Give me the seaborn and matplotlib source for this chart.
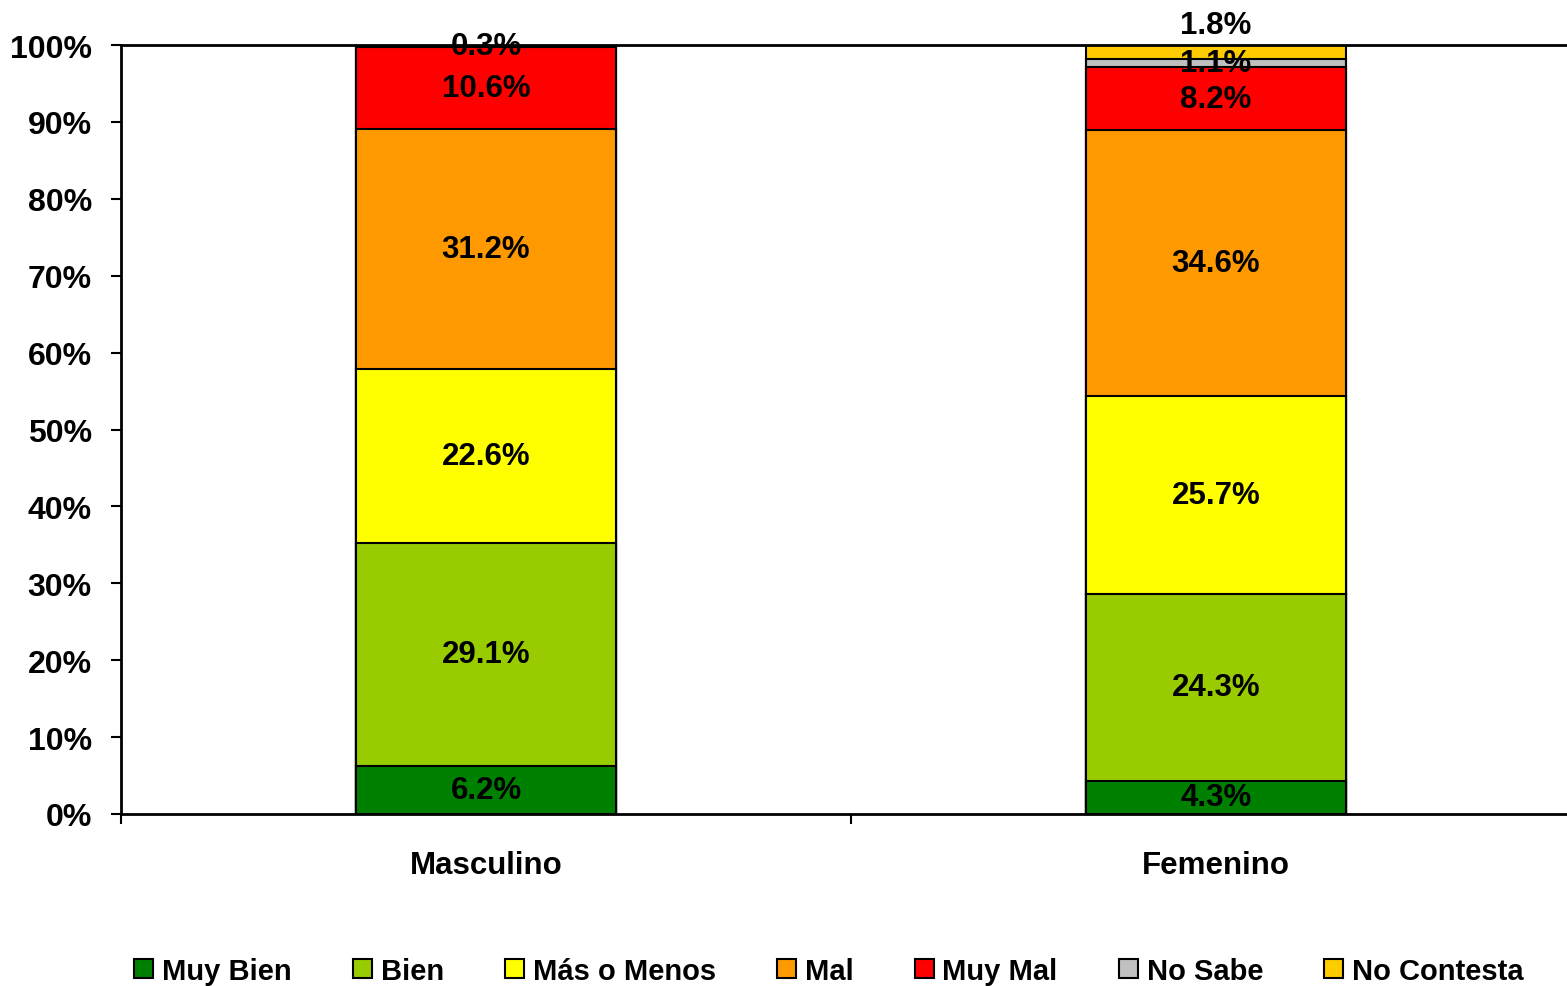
import matplotlib
matplotlib.use("Agg")
import matplotlib.pyplot as plt
import seaborn as sns
import pandas as pd
import numpy as np
from matplotlib.patches import Patch
from matplotlib.ticker import FixedLocator

categories = ["Masculino", "Femenino"]
series_names = ["Muy Bien", "Bien", "Más o Menos", "Mal", "Muy Mal", "No Sabe", "No Contesta"]
muy_bien = [6.2, 4.3]
bien = [29.1, 24.3]
mas_o_menos = [22.6, 25.7]
mal = [31.2, 34.6]
muy_mal = [10.6, 8.2]
no_sabe = [0.0, 1.1]
no_contesta = [0.3, 1.8]
colors = ["#008000", "#99CC00", "#FFFF00", "#FF9900", "#FF0000", "#C0C0C0", "#FFCC00"]

sns.set_theme(style="white")
plt.rcParams["font.family"] = ["Liberation Sans", "DejaVu Sans"]
plt.rcParams["font.weight"] = "bold"
plt.rcParams["text.color"] = "black"
plt.rcParams["xtick.color"] = "black"
plt.rcParams["ytick.color"] = "black"

values = [muy_bien, bien, mas_o_menos, mal, muy_mal, no_sabe, no_contesta]
cum = np.cumsum(np.array(values), axis=0)

fig = plt.figure(figsize=(15.67, 9.87), dpi=100)
ax = fig.add_axes([121/1567, 1-815/987, 1460/1567, (815-46)/987])

# draw cumulative layers from top down
for i in range(len(series_names)-1, -1, -1):
    df = pd.DataFrame({"cat": categories, "val": cum[i]})
    sns.barplot(data=df, x="cat", y="val", color=colors[i], width=0.357,
                edgecolor="black", linewidth=1.5, saturation=1, ax=ax, order=categories)

# labels
for j, cat in enumerate(categories):
    for i in range(len(series_names)):
        v = values[i][j]
        if v <= 0:
            continue
        base = cum[i][j] - v
        y = base + v/2
        if series_names[i] == "No Contesta" and v > 1:
            y = 102.6
        ax.text(j, y, f"{v:.1f}%", ha="center", va="center", fontsize=22.5,
                fontweight="bold", color="black", clip_on=False)

ax.set_xlim(-0.5, 1.5)
ax.set_ylim(0, 100)
ax.set_yticks(np.arange(0, 101, 10))
ax.set_yticklabels([f"{t}%" for t in range(0, 101, 10)], fontsize=23, fontweight="bold", color="black")
ax.set_xlabel("")
ax.set_ylabel("")
ax.tick_params(axis="x", which="major", length=0, pad=26, labelsize=22.5, labelcolor="black")
for lab in ax.get_xticklabels():
    lab.set_fontweight("bold")
ax.xaxis.set_minor_locator(FixedLocator([-0.5, 0.5, 1.5]))
ax.tick_params(axis="x", which="minor", length=7, width=1.5, direction="out", bottom=True)
ax.tick_params(axis="y", which="major", length=7, width=1.5, direction="out", left=True, pad=14)
for s in ["left", "bottom", "top"]:
    ax.spines[s].set_visible(True)
    ax.spines[s].set_color("black")
    ax.spines[s].set_linewidth(2)
ax.spines["right"].set_visible(False)
ax.grid(False)

handles = [Patch(facecolor=c, edgecolor="black", linewidth=1.5) for c in colors]
fig.legend(handles, series_names, loc="center", bbox_to_anchor=(829/1567, 1-972/987),
           ncol=7, frameon=False, prop={"weight": "bold", "size": 21},
           handlelength=0.65, handleheight=0.65, handletextpad=0.3, columnspacing=2.1)

fig.savefig("out.png", dpi=100)
